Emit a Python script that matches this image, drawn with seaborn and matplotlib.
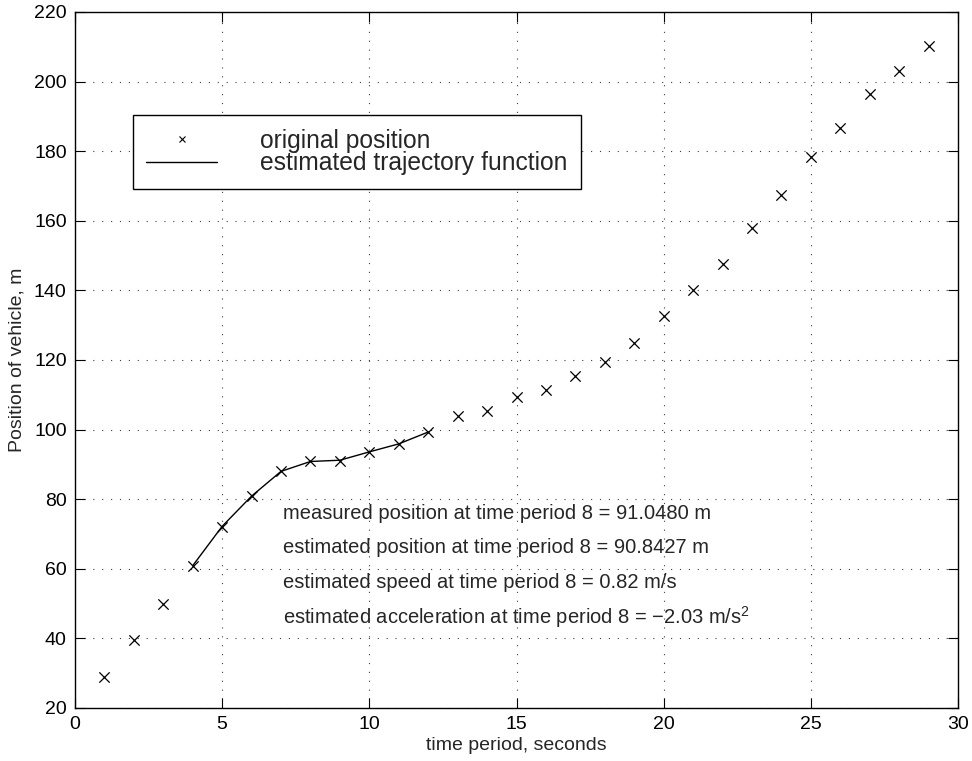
import matplotlib
matplotlib.use("Agg")
import matplotlib.pyplot as plt
from matplotlib.lines import Line2D
import pandas as pd
import seaborn as sns

# measured positions (one per second)
time_s = [1, 2, 3, 4, 5, 6, 7, 8, 9, 10, 11, 12, 13, 14, 15,
          16, 17, 18, 19, 20, 21, 22, 23, 24, 25, 26, 27, 28, 29]
position_m = [28.9, 39.6, 49.9, 60.8, 72.0, 80.8, 88.1, 91.05, 91.1, 93.6,
              95.9, 99.2, 104.0, 105.3, 109.3, 111.3, 115.3, 119.3, 125.0, 132.7,
              140.2, 147.7, 157.8, 167.4, 178.2, 186.7, 196.4, 203.1, 210.3]

# estimated trajectory over the fitting window
est_time = [4, 5, 6, 7, 8, 9, 10, 11, 12]
est_position = [60.9, 72.2, 80.9, 88.0, 90.84, 91.2, 93.6, 95.9, 99.3]

x_ticks = [0, 5, 10, 15, 20, 25, 30]
y_ticks = [20, 40, 60, 80, 100, 120, 140, 160, 180, 200, 220]

notes = [
    "measured position at time period 8 = 91.0480 m",
    "estimated position at time period 8 = 90.8427 m",
    "estimated speed at time period 8 = 0.82 m/s",
    "estimated acceleration at time period 8 = \u22122.03 m/s$^{2}$",
]
note_y = [76, 66, 56, 46]

sns.set_theme(style="ticks")
plt.rcParams["font.family"] = ["Liberation Sans", "DejaVu Sans"]
plt.rcParams["mathtext.fontset"] = "custom"
plt.rcParams["mathtext.rm"] = "Liberation Sans"
plt.rcParams["mathtext.it"] = "Liberation Sans"
plt.rcParams["axes.unicode_minus"] = True

measured = pd.DataFrame({"t": time_s, "pos": position_m})
estimated = pd.DataFrame({"t": est_time, "pos": est_position})

fig = plt.figure(figsize=(9.72, 7.61), dpi=100)
ax = fig.add_axes([75 / 972, 1 - 708 / 761, 883 / 972, 696 / 761])

sns.lineplot(data=estimated, x="t", y="pos", ax=ax, color="black",
             linewidth=1.0, zorder=3)
sns.scatterplot(data=measured, x="t", y="pos", ax=ax, marker="x", s=55,
                color="black", linewidth=0.9, zorder=4)

ax.set_xlim(0, 30)
ax.set_ylim(20, 220)
ax.set_xticks(x_ticks)
ax.set_yticks(y_ticks)
ax.tick_params(direction="in", length=7, width=0.8, top=True, right=True,
               labelsize=14, pad=6, colors="black")
ax.grid(True, color="0.25", linestyle=(0, (1, 7)), linewidth=0.8)
for sp in ax.spines.values():
    sp.set_linewidth(1.0)
    sp.set_color("black")

ax.set_xlabel("time period, seconds", fontsize=14, labelpad=3)
ax.set_ylabel("Position of vehicle, m", fontsize=14, labelpad=6)

for txt, yy in zip(notes, note_y):
    ax.text(7.05, yy, txt, fontsize=14.5, va="center", ha="left")

handles = [
    Line2D([], [], marker="x", linestyle="none", color="black",
           markersize=5, markeredgewidth=0.8),
    Line2D([], [], color="black", linewidth=1.0),
]
leg = ax.legend(handles, ["original position", "estimated trajectory function"],
                loc="upper left", bbox_to_anchor=(0.0653, 0.852),
                borderaxespad=0, fontsize=17.7, handlelength=2.9,
                handletextpad=1.75, labelspacing=-0.05, borderpad=0.55,
                fancybox=False, framealpha=1, edgecolor="black")
leg.get_frame().set_linewidth(1.0)

fig.savefig("out.png", dpi=100)
